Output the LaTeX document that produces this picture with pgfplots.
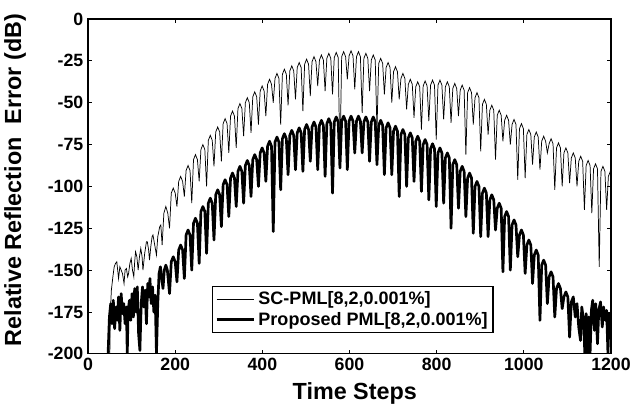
\documentclass[border=0pt]{standalone}
\usepackage{pgfplots}
\pgfplotsset{compat=1.18}
\usepackage{fontspec}
\setmainfont{Liberation Sans}
\begin{document}
\begin{tikzpicture}
\begin{axis}[
  scale only axis, width=392pt, height=251pt,
  at={(0,0)}, anchor=south west,
  xmin=0, xmax=1200, ymin=-200, ymax=0,
  xtick={0,200,400,600,800,1000,1200},
  xticklabels={0,200,400,600,800,1000,1200},
  ytick={-200,-175,-150,-125,-100,-75,-50,-25,0},
  yticklabels={-200,-175,-150,-125,-100,-75,-50,-25,0},
  tick align=inside, major tick length=3pt,
  tick style={line width=0.7pt, black},
  axis line style={line width=0.9pt},
  ticklabel style={font=\bfseries\fontsize{13.3}{15}\selectfont},
  xlabel={\bfseries Time Steps},
  ylabel={\bfseries Relative Reflection\ \ Error (dB)},
  xlabel style={font=\fontsize{17.5}{19}\selectfont, at={(axis description cs:0.51,-0.137)}, anchor=base},
  ylabel style={font=\fontsize{17.5}{19}\selectfont, at={(axis description cs:-0.128,0.519)}, anchor=base},
  legend style={at={(0.237,0.062)}, anchor=south west, draw=black, line width=0.8pt,
    font=\bfseries\fontsize{13.5}{16}\selectfont, inner sep=2pt, row sep=0pt},
  legend cell align=left,
  legend image code/.code={\draw[#1] (0cm,0cm) -- (1.0cm,0cm);},
]
\addplot[black, line width=0.55pt] coordinates {
(50,-200) (51,-176) (53.5,-162) (57,-154) (60,-148) (63,-146) (66,-145) (68,-150) (70,-155) (73,-148) (76,-150) (79,-152) (82.6,-158) (85,-150) (88,-149) (91,-154) (93,-152) (96,-146) (99,-143) (102,-150) (105,-154) (107,-145) (109,-139) (112,-142) (115,-150) (118,-142) (121,-137) (124,-142) (126,-150) (130,-140) (134,-133) (136,-133) (139,-138) (141,-144) (144,-136) (147,-130) (149,-129) (153,-135) (157,-141) (160,-130) (164.5,-124) (167,-123) (170,-135) (174,-116) (178.5,-112) (183,-116)
(187,-125) (191,-104) (195.5,-101) (200,-104)
(204,-112) (208,-97) (212.5,-94) (217,-97)
(221,-106) (225,-90.5) (229.5,-87.5) (234,-90.5)
(238,-110) (242,-84) (246.5,-81) (251,-84)
(255,-97) (259,-78) (263.5,-75) (268,-78)
(272,-100) (276,-72.5) (280.5,-69.5) (285,-72.5)
(289,-88) (293,-67.5) (297.5,-64.5) (302,-67.5)
(306,-85) (310,-62.5) (314.5,-59.5) (319,-62.5)
(323,-80) (327,-58) (331.5,-55) (336,-58)
(340,-77) (344,-53.5) (348.5,-50.5) (353,-53.5)
(357,-70) (361,-50) (365.5,-47) (370,-50)
(374,-68) (378,-46.5) (382.5,-43.5) (387,-46.5)
(391,-63) (395,-43) (399.5,-40) (404,-43)
(408,-58) (412,-39) (416.5,-36) (421,-39)
(425,-50) (429,-35.5) (433.5,-32.5) (438,-35.5)
(442,-63) (446,-33) (450.5,-30) (455,-33)
(459,-51.5) (463,-31) (467.5,-28) (472,-31)
(476,-48) (480,-29) (484.5,-26) (489,-29)
(493,-55) (497,-27) (501.5,-24) (506,-27)
(510,-46) (514,-25.5) (518.5,-22.5) (523,-25.5)
(527,-40) (531,-24.5) (535.5,-21.5) (540,-24.5)
(544,-43) (548,-23.5) (552.5,-20.5) (557,-23.5)
(561,-45) (565,-23) (569.5,-20) (574,-23)
(578,-84) (582,-22.5) (586.5,-19.5) (591,-22.5)
(595,-36) (599,-22) (603.5,-19) (608,-22)
(612,-42) (616,-22.5) (620.5,-19.5) (625,-22.5)
(629,-56) (633,-23.5) (637.5,-20.5) (642,-23.5)
(646,-43) (650,-24.5) (654.5,-21.5) (659,-24.5)
(663,-66) (667,-26.5) (671.5,-23.5) (676,-26.5)
(680,-45) (684,-29) (688.5,-26) (693,-29)
(697,-50) (701,-31.5) (705.5,-28.5) (710,-31.5)
(714,-48) (718,-35.5) (722.5,-32.5) (727,-35.5)
(731,-54) (735,-39) (739.5,-36) (744,-39)
(748,-59) (752,-40.5) (756.5,-37.5) (761,-40.5)
(765,-66) (769,-40) (773.5,-37) (778,-40)
(782,-61) (786,-39.5) (790.5,-36.5) (795,-39.5)
(799,-72) (803,-39.5) (807.5,-36.5) (812,-39.5)
(816,-60) (820,-40.5) (824.5,-37.5) (829,-40.5)
(833,-62) (837,-41.5) (841.5,-38.5) (846,-41.5)
(850,-58) (854,-42.5) (858.5,-39.5) (863,-42.5)
(867,-81) (871,-44) (875.5,-41) (880,-44)
(884,-63) (888,-47) (892.5,-44) (897,-47)
(901,-79) (905,-51) (909.5,-48) (914,-51)
(918,-69) (922,-54.5) (926.5,-51.5) (931,-54.5)
(935,-84) (939,-57.5) (943.5,-54.5) (948,-57.5)
(952,-73) (956,-60.5) (960.5,-57.5) (965,-60.5)
(969,-75) (973,-63) (977.5,-60) (982,-63)
(986,-96) (990,-65.5) (994.5,-62.5) (999,-65.5)
(1003,-95) (1007,-69) (1011.5,-66) (1016,-69)
(1020,-87) (1024,-70.5) (1028.5,-67.5) (1033,-70.5)
(1037,-90) (1041,-73) (1045.5,-70) (1050,-73)
(1054,-80) (1058,-74.5) (1062.5,-71.5) (1067,-74.5)
(1071,-102) (1075,-77) (1079.5,-74) (1084,-77)
(1088,-100) (1092,-80) (1096.5,-77) (1101,-80)
(1105,-98) (1109,-83) (1113.5,-80) (1118,-83)
(1122,-100) (1126,-85) (1130.5,-82) (1135,-85)
(1139,-114) (1143,-87.5) (1147.5,-84.5) (1152,-87.5)
(1156,-116) (1160,-89.5) (1164.5,-86.5) (1169,-89.5)
(1173,-148) (1177,-91) (1181.5,-88) (1186,-91)
(1190,-114) (1194,-94) (1198.5,-91) (1200,-92)
};
\addlegendentry{SC-PML[8,2,0.001\%]}
\addplot[black, line width=2pt, line join=round] coordinates {
(46,-200) (49,-178) (52,-170) (55,-182) (58,-168) (61,-185) (64,-172) (67,-180) (70,-166) (73,-186) (76,-164) (79,-176) (82,-170) (85,-182) (88,-172) (90,-200) (92,-174) (95,-168) (98,-180) (101,-164) (104,-178) (107,-161) (110,-175) (113,-160) (116,-188) (119,-198) (122,-170) (125,-160) (128,-172) (131,-162) (134,-182) (137,-158) (140,-166) (142,-155) (145,-170) (148,-160) (151,-175) (154,-165) (157,-200) (160,-170) (163,-152) (166,-148) (169,-155) (172,-161) (175,-150) (178.5,-147) (182,-150)
(187,-164) (191,-145) (195.5,-142) (200,-145)
(204,-157) (208,-138) (212.5,-135) (217,-138)
(221,-155) (225,-129) (229.5,-126) (234,-129)
(238,-150) (242,-122) (246.5,-119) (251,-122)
(255,-146) (259,-115) (263.5,-112) (268,-115)
(272,-140) (276,-110) (280.5,-107) (285,-110)
(289,-132) (293,-105) (297.5,-102) (302,-105)
(306,-124) (310,-99) (314.5,-96) (319,-99)
(323,-118) (327,-95) (331.5,-92) (336,-95)
(340,-112) (344,-91) (348.5,-88) (353,-91)
(357,-110) (361,-87.5) (365.5,-84.5) (370,-87.5)
(374,-106) (378,-84) (382.5,-81) (387,-84)
(391,-100) (395,-80) (399.5,-77) (404,-80)
(408,-97) (412,-76) (416.5,-73) (421,-76)
(425,-127) (429,-73.5) (433.5,-70.5) (438,-73.5)
(442,-102) (446,-71.5) (450.5,-68.5) (455,-71.5)
(459,-93) (463,-69.5) (467.5,-66.5) (472,-69.5)
(476,-90) (480,-68) (484.5,-65) (489,-68)
(493,-91) (497,-66) (501.5,-63) (506,-66)
(510,-85) (514,-64.5) (518.5,-61.5) (523,-64.5)
(527,-90) (531,-63.5) (535.5,-60.5) (540,-63.5)
(544,-94) (548,-62.5) (552.5,-59.5) (557,-62.5)
(561,-104) (565,-61.5) (569.5,-58.5) (574,-61.5)
(578,-89) (582,-61) (586.5,-58) (591,-61)
(595,-90) (599,-61) (603.5,-58) (608,-61)
(612,-80) (616,-61) (620.5,-58) (625,-61)
(629,-80) (633,-61.5) (637.5,-58.5) (642,-61.5)
(646,-85) (650,-61.5) (654.5,-58.5) (659,-61.5)
(663,-87) (667,-63.5) (671.5,-60.5) (676,-63.5)
(680,-93) (684,-65) (688.5,-62) (693,-65)
(697,-93) (701,-67) (705.5,-64) (710,-67)
(714,-106) (718,-69) (722.5,-66) (727,-69)
(731,-100) (735,-71) (739.5,-68) (744,-71)
(748,-97) (752,-73) (756.5,-70) (761,-73)
(765,-103) (769,-75) (773.5,-72) (778,-75)
(782,-108) (786,-77.5) (790.5,-74.5) (795,-77.5)
(799,-112) (803,-80) (807.5,-77) (812,-80)
(816,-110) (820,-83) (824.5,-80) (829,-83)
(833,-125) (837,-87) (841.5,-84) (846,-87)
(850,-113) (854,-91) (858.5,-88) (863,-91)
(867,-118) (871,-95) (875.5,-92) (880,-95)
(884,-128) (888,-100) (892.5,-97) (897,-100)
(901,-130) (905,-104) (909.5,-101) (914,-104)
(918,-130) (922,-108) (926.5,-105) (931,-108)
(935,-126) (939,-113) (943.5,-110) (948,-113)
(952,-151) (956,-118) (960.5,-115) (965,-118)
(969,-150) (973,-123) (977.5,-120) (982,-123)
(986,-142) (990,-129) (994.5,-126) (999,-129)
(1003,-152) (1007,-135) (1011.5,-132) (1016,-135)
(1020,-158) (1024,-141) (1028.5,-138) (1033,-141)
(1037,-180) (1041,-147) (1045.5,-144) (1050,-147)
(1054,-170) (1058,-154) (1062.5,-151) (1067,-154)
(1071,-178) (1075,-161) (1079.5,-158) (1084,-161)
(1088,-173) (1092,-166) (1096.5,-163) (1101,-166)
(1105,-190) (1109,-169) (1113.5,-166)
(1118,-178) (1122,-170) (1126,-184) (1130,-192) (1133,-172) (1137,-180) (1140,-200) (1143,-176) (1146,-200) (1149,-178) (1152,-200) (1155,-174) (1158,-168) (1162,-186) (1165,-170) (1169,-194) (1172,-174) (1176,-169) (1180,-184) (1183,-172) (1187,-180) (1190,-174) (1193,-200) (1196,-176) (1200,-178)
};
\addlegendentry{Proposed PML[8,2,0.001\%]}
\end{axis}
\pgfresetboundingbox
\useasboundingbox (-66pt,-40.5pt) rectangle (407.75pt,265.25pt);
\end{tikzpicture}
\end{document}
